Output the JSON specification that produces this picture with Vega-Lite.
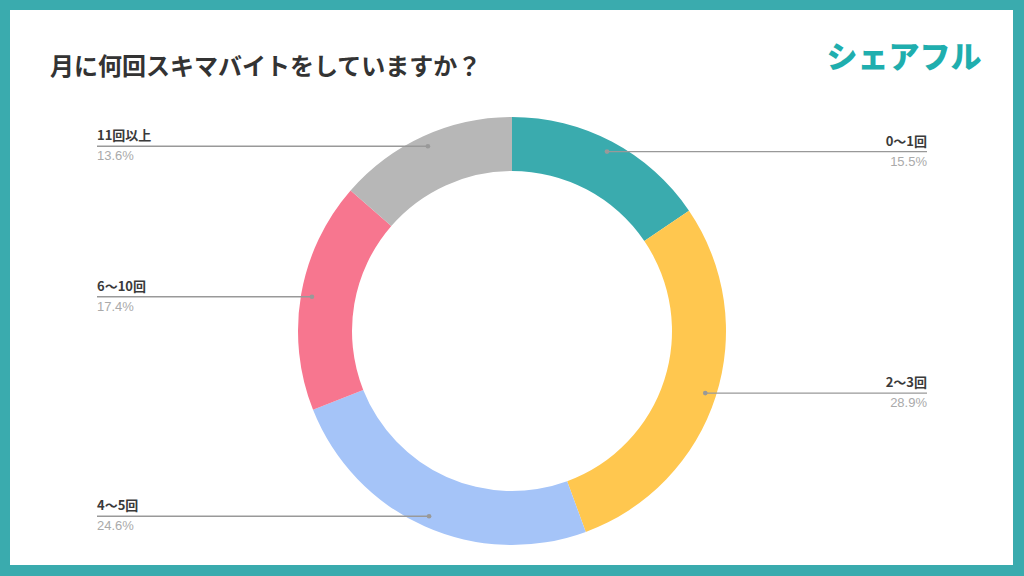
{
  "$schema": "https://vega.github.io/schema/vega-lite/v6.json",
  "width": 1024,
  "height": 576,
  "autosize": {"type": "fit", "contains": "padding"},
  "padding": {"left": 10, "top": 10, "right": 11, "bottom": 11},
  "background": "#3AABAE",
  "config": {"view": {"fill": "#FFFFFF", "stroke": null}},
  "title": {
    "text": "月に何回スキマバイトをしていますか？",
    "anchor": "start",
    "frame": "group",
    "offset": -70,
    "dx": 40,
    "font": "Noto Sans CJK JP",
    "fontSize": 24,
    "fontWeight": "bold",
    "color": "#333333"
  },
  "layer": [
    {
      "data": {
        "values": [
          {"cat": "0〜1回", "pct": 15.5, "order": 1},
          {"cat": "2〜3回", "pct": 28.9, "order": 2},
          {"cat": "4〜5回", "pct": 24.6, "order": 3},
          {"cat": "6〜10回", "pct": 17.4, "order": 4},
          {"cat": "11回以上", "pct": 13.6, "order": 5}
        ]
      },
      "transform": [
        {"window": [{"op": "sum", "field": "pct", "as": "cum"}], "sort": [{"field": "order"}], "frame": [null, 0]},
        {"calculate": "datum.cum - datum.pct", "as": "start"},
        {"calculate": "(datum.start + datum.pct / 2) / 100 * 2 * PI", "as": "ang"},
        {"calculate": "203 * sin(datum.ang)", "as": "px"},
        {"calculate": "203 * cos(datum.ang)", "as": "py"},
        {"calculate": "datum.px > 0 ? 415 : -415", "as": "lx"},
        {"calculate": "format(datum.pct, '.1f') + '%'", "as": "plabel"}
      ],
      "layer": [
        {
          "mark": {"type": "arc", "innerRadius": 160, "outerRadius": 214},
          "encoding": {
            "x": {"datum": 0, "type": "quantitative", "scale": {"domain": [-502, 501], "nice": false, "zero": false}, "axis": null},
            "y": {"datum": 0, "type": "quantitative", "scale": {"domain": [-234, 321], "nice": false, "zero": false}, "axis": null},
            "theta": {"field": "start", "type": "quantitative", "scale": {"domain": [0, 100], "range": [0, 6.283185307179586]}},
            "theta2": {"field": "cum"},
            "color": {
              "field": "cat",
              "type": "nominal",
              "scale": {
                "domain": ["0〜1回", "2〜3回", "4〜5回", "6〜10回", "11回以上"],
                "range": ["#3AABAE", "#FFC74F", "#A5C4F8", "#F7768F", "#B7B7B7"]
              },
              "legend": null
            }
          }
        },
        {
          "mark": {"type": "rule", "color": "#999999", "strokeWidth": 1.4},
          "encoding": {
            "x": {"field": "px", "type": "quantitative", "scale": {"domain": [-502, 501], "nice": false, "zero": false}, "axis": null},
            "x2": {"field": "lx"},
            "y": {"field": "py", "type": "quantitative", "scale": {"domain": [-234, 321], "nice": false, "zero": false}, "axis": null}
          }
        },
        {
          "mark": {"type": "point", "filled": true, "color": "#999999", "size": 22, "opacity": 1},
          "encoding": {
            "x": {"field": "px", "type": "quantitative", "scale": {"domain": [-502, 501], "nice": false, "zero": false}, "axis": null},
            "y": {"field": "py", "type": "quantitative", "scale": {"domain": [-234, 321], "nice": false, "zero": false}, "axis": null}
          }
        },
        {
          "transform": [{"filter": "datum.lx > 0"}],
          "mark": {"type": "text", "align": "right", "baseline": "bottom", "dy": -3, "font": "Noto Sans CJK JP", "fontSize": 13, "fontWeight": "bold", "color": "#3A3A3A"},
          "encoding": {
            "x": {"field": "lx", "type": "quantitative", "scale": {"domain": [-502, 501], "nice": false, "zero": false}, "axis": null},
            "y": {"field": "py", "type": "quantitative", "scale": {"domain": [-234, 321], "nice": false, "zero": false}, "axis": null},
            "text": {"field": "cat"}
          }
        },
        {
          "transform": [{"filter": "datum.lx < 0"}],
          "mark": {"type": "text", "align": "left", "baseline": "bottom", "dy": -3, "font": "Noto Sans CJK JP", "fontSize": 13, "fontWeight": "bold", "color": "#3A3A3A"},
          "encoding": {
            "x": {"field": "lx", "type": "quantitative", "scale": {"domain": [-502, 501], "nice": false, "zero": false}, "axis": null},
            "y": {"field": "py", "type": "quantitative", "scale": {"domain": [-234, 321], "nice": false, "zero": false}, "axis": null},
            "text": {"field": "cat"}
          }
        },
        {
          "transform": [{"filter": "datum.lx > 0"}],
          "mark": {"type": "text", "align": "right", "baseline": "top", "dy": 4, "font": "Liberation Sans", "fontSize": 13, "color": "#AAAAAA"},
          "encoding": {
            "x": {"field": "lx", "type": "quantitative", "scale": {"domain": [-502, 501], "nice": false, "zero": false}, "axis": null},
            "y": {"field": "py", "type": "quantitative", "scale": {"domain": [-234, 321], "nice": false, "zero": false}, "axis": null},
            "text": {"field": "plabel"}
          }
        },
        {
          "transform": [{"filter": "datum.lx < 0"}],
          "mark": {"type": "text", "align": "left", "baseline": "top", "dy": 4, "font": "Liberation Sans", "fontSize": 13, "color": "#AAAAAA"},
          "encoding": {
            "x": {"field": "lx", "type": "quantitative", "scale": {"domain": [-502, 501], "nice": false, "zero": false}, "axis": null},
            "y": {"field": "py", "type": "quantitative", "scale": {"domain": [-234, 321], "nice": false, "zero": false}, "axis": null},
            "text": {"field": "plabel"}
          }
        }
      ]
    },
    {
      "data": {"values": [{"logo": "シェアフル"}]},
      "mark": {"type": "text", "align": "center", "baseline": "middle", "font": "Noto Sans CJK JP", "fontSize": 31, "fontWeight": 900, "color": "#1FAEAE"},
      "encoding": {
        "x": {"datum": 392, "type": "quantitative", "scale": {"domain": [-502, 501], "nice": false, "zero": false}, "axis": null},
        "y": {"datum": 272, "type": "quantitative", "scale": {"domain": [-234, 321], "nice": false, "zero": false}, "axis": null},
        "text": {"field": "logo"}
      }
    }
  ]
}
